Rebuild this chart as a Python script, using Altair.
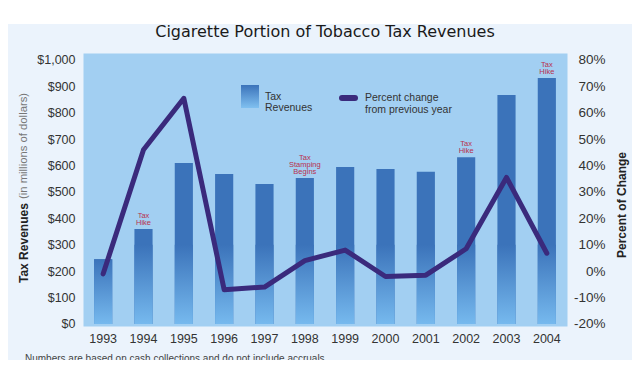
import altair as alt
import pandas as pd

# ---- data ----
years = ["1993", "1994", "1995", "1996", "1997", "1998", "1999", "2000", "2001", "2002", "2003", "2004"]
revenue = [245, 360, 610, 568, 530, 553, 595, 587, 577, 632, 867, 932]          # $ millions
pct_change = [-1.0, 46.0, 65.5, -7.0, -6.0, 4.0, 8.0, -2.0, -1.5, 8.5, 35.5, 6.8]  # percent
note_years = ["1994", "1998", "2002", "2004"]
note_labels = ["Tax\nHike", "Tax\nStamping\nBegins", "Tax\nHike", "Tax\nHike"]
left_ticks = [0, 100, 200, 300, 400, 500, 600, 700, 800, 900, 1000]
right_ticks = [-20, -10, 0, 10, 20, 30, 40, 50, 60, 70, 80]

title_text = "Cigarette Portion of Tobacco Tax Revenues"
footnote = "Numbers are based on cash collections and do not include accruals"

W, H = 484, 273
PANEL = "#ebf3fc"
PLOT_BG = "#a2cff2"
BAR_DARK = "#3b73ba"
BAR_LIGHT = "#76b9ee"
LINE_C = "#3a2a7c"
NOTE_C = "#b8304e"
FONT = "Liberation Sans"

df = pd.DataFrame({"year": years, "revenue": revenue, "pct": pct_change})
notes = pd.DataFrame({
    "year": note_years,
    "label": note_labels,
    "lines": [lbl.count("\n") + 1 for lbl in note_labels],
    "revenue": [revenue[years.index(y)] for y in note_years],
})

xscale = alt.Scale(paddingInner=0.55, paddingOuter=0.275)
xaxis = alt.Axis(title=None, labelAngle=0, ticks=False, tickSize=0, domain=False, grid=False,
                 labelPadding=6, labelFontSize=12.5, labelColor="#333333", labelFont=FONT)
X = alt.X("year:N", scale=xscale, axis=xaxis, sort=years)

yL = alt.Scale(domain=[-7.6, 1026.5], nice=False, zero=False)
left_axis = alt.Axis(title=None, values=left_ticks, format="$,.0f", ticks=False, tickSize=0,
                     domain=False, grid=False, labelPadding=8, labelFontSize=12.5,
                     labelColor="#333333", labelFont=FONT)
yR = alt.Scale(domain=[-20.76, 82.65], nice=False, zero=False)
right_axis = alt.Axis(title=None, orient="right", values=right_ticks, labelExpr="datum.value + '%'",
                      ticks=False, tickSize=0, domain=False, grid=False, labelAlign="right",
                      labelPadding=38, labelFontSize=13.5, labelColor="#333333", labelFont=FONT)

fade_grad = alt.Gradient(gradient="linear",
                         stops=[alt.GradientStop(color=BAR_DARK, offset=0),
                                alt.GradientStop(color=BAR_LIGHT, offset=1)],
                         x1=0, x2=0, y1=0, y2=1)

base = alt.Chart(df)
bars = base.mark_bar(color=BAR_DARK).encode(
    x=X, y=alt.Y("revenue:Q", scale=yL, axis=left_axis))
fade = base.transform_calculate(fade="min(datum.revenue, 300)").mark_bar(color=fade_grad).encode(
    x=X, y=alt.Y("fade:Q", scale=yL, axis=left_axis))

LH = 7
def note_layer(n):
    return alt.Chart(notes).transform_filter(f"datum.lines == {n}").mark_text(
        color=NOTE_C, fontSize=7.5, lineBreak="\n", lineHeight=LH, baseline="bottom",
        dy=-2 - (n - 1) * LH, font=FONT
    ).encode(x=X, y=alt.Y("revenue:Q", scale=yL, axis=left_axis), text="label:N")

left = alt.layer(bars, fade, note_layer(2), note_layer(3))

line = base.mark_line(color=LINE_C, strokeWidth=5, strokeCap="round", strokeJoin="round").encode(
    x=X, y=alt.Y("pct:Q", scale=yR, axis=right_axis))

one = alt.Chart(pd.DataFrame({"k": [0]}))

title = one.mark_text(text=title_text, font="DejaVu Sans", fontSize=16, color="#1a1a1a",
                      baseline="alphabetic", align="center").encode(
    x=alt.value(W / 2), y=alt.value(-16))
white_cover = one.mark_rect(color="white").encode(
    x=alt.value(-90), x2=alt.value(W + 80), y=alt.value(-50), y2=alt.value(-29))

ytitle_bold = one.mark_text(text="Tax Revenues", font=FONT, fontSize=12, fontWeight="bold",
                            color="#222222", angle=270, align="left", baseline="middle").encode(
    x=alt.value(-59), y=alt.value(230))
ytitle_norm = one.mark_text(text="(in millions of dollars)", font=FONT, fontSize=11.3,
                            color="#777777", angle=270, align="left", baseline="middle").encode(
    x=alt.value(-59), y=alt.value(146))
rtitle = one.mark_text(text="Percent of Change", font=FONT, fontSize=12, fontWeight="bold",
                       color="#222222", angle=270, align="center", baseline="middle").encode(
    x=alt.value(539), y=alt.value(152))

leg_grad = alt.Gradient(gradient="linear",
                        stops=[alt.GradientStop(color=BAR_DARK, offset=0),
                               alt.GradientStop(color="#80c0f0", offset=1)],
                        x1=0, x2=0, y1=0, y2=1)
leg_box = one.mark_rect(color=leg_grad).encode(
    x=alt.value(158), x2=alt.value(176), y=alt.value(32), y2=alt.value(55))
leg_line = one.mark_rule(color=LINE_C, strokeWidth=6, strokeCap="round").encode(
    x=alt.value(259), x2=alt.value(272), y=alt.value(45))
leg_t1 = one.mark_text(text=["Tax", "Revenues"], font=FONT, fontSize=10.5, color="#333333",
                       align="left", baseline="middle", lineHeight=11).encode(
    x=alt.value(182), y=alt.value(44))
leg_t2 = one.mark_text(text=["Percent change", "from previous year"], font=FONT, fontSize=10.5,
                       color="#333333", align="left", baseline="middle", lineHeight=12).encode(
    x=alt.value(282), y=alt.value(45))

foot = one.mark_text(text=footnote, font=FONT, fontSize=10, color="#444444",
                     align="left", baseline="top").encode(
    x=alt.value(-58), y=alt.value(301))

chart = alt.layer(
    title, white_cover, left, line,
    ytitle_bold, ytitle_norm, rtitle,
    leg_box, leg_line, leg_t1, leg_t2, foot
).resolve_scale(y="independent").properties(
    width=W, height=H,
    autosize=alt.AutoSizeParams(type="none"),
    padding={"left": 75, "top": 45, "right": 65, "bottom": 34},
    background=PANEL,
).configure_view(fill=PLOT_BG, stroke="transparent")

chart.save("out.html", embed_options={"renderer": "svg", "actions": False})
